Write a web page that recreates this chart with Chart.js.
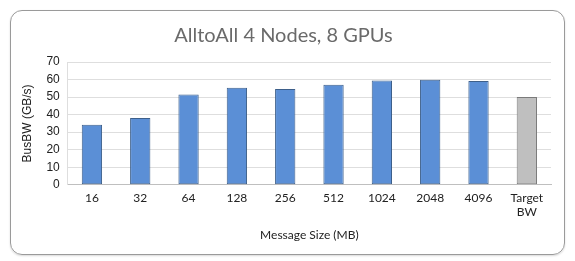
<!DOCTYPE html>
<html><head><meta charset="utf-8">
<script src="https://cdn.jsdelivr.net/npm/chart.js@4"></script>
<style>
html,body{margin:0;padding:0;background:#fff;}
#card{position:absolute;left:10px;top:10px;width:553px;height:243px;border:1px solid #9a9a9a;border-radius:12px;box-shadow:0 1px 2px rgba(0,0,0,0.15);}
#wrap{position:absolute;left:0;top:0;width:575px;height:261px;}
</style></head>
<body>
<div id="card"></div>
<div id="wrap"><canvas id="c" width="575" height="261"></canvas></div>
<script>
const categories = ["16","32","64","128","256","512","1024","2048","4096",["Target","BW"]];
const busBW = [34.2, 38.1, 51.5, 55.3, 54.6, 57.1, 59.5, 59.9, 59.2, 50];
const yTicks = [0,10,20,30,40,50,60,70];
const barColors = busBW.map((v,i)=> i===busBW.length-1 ? '#bfbfbf' : '#5b8fd6');
const borderColors = busBW.map((v,i)=> i===busBW.length-1 ? '#7a7a7a' : '#3d5f8a');

new Chart(document.getElementById('c'), {
  type: 'bar',
  data: { labels: categories, datasets: [{ data: busBW, backgroundColor: barColors, borderColor: borderColors, borderWidth: 1, borderSkipped: false, barPercentage: 0.42, categoryPercentage: 1 }] },
  options: {
    responsive: false, animation: false,
    layout: { padding: { left: 16, right: 24, top: 24, bottom: 19 } },
    plugins: {
      legend: { display: false }, tooltip: { enabled: false },
      title: { display: true, text: 'AlltoAll 4 Nodes, 8 GPUs', color: '#6a6a6a', font: { family: 'Lato', size: 20, weight: 'normal' }, padding: { top: 0, bottom: 14 } }
    },
    scales: {
      x: {
        grid: { display: false, drawTicks: false },
        border: { color: '#bfbfbf' },
        ticks: { color: '#222', font: { family: 'Lato', size: 12 }, padding: 6, maxRotation: 0, autoSkip: false },
        title: { display: true, text: 'Message Size (MB)', color: '#222', font: { family: 'Lato', size: 12 }, padding: { top: 2, bottom: 0 } }
      },
      y: {
        min: 0, max: 70,
        afterBuildTicks: ax => { ax.ticks = yTicks.map(v => ({ value: v })); },
        grid: { color: '#dedede', drawTicks: false },
        border: { color: '#dedede' },
        ticks: { color: '#222', font: { family: 'Liberation Sans', size: 12 }, padding: 8 },
        title: { display: true, text: 'BusBW (GB/s)', color: '#222', font: { family: 'Liberation Sans', size: 12 }, padding: { bottom: 4 } }
      }
    }
  }
});
</script>
</body></html>
